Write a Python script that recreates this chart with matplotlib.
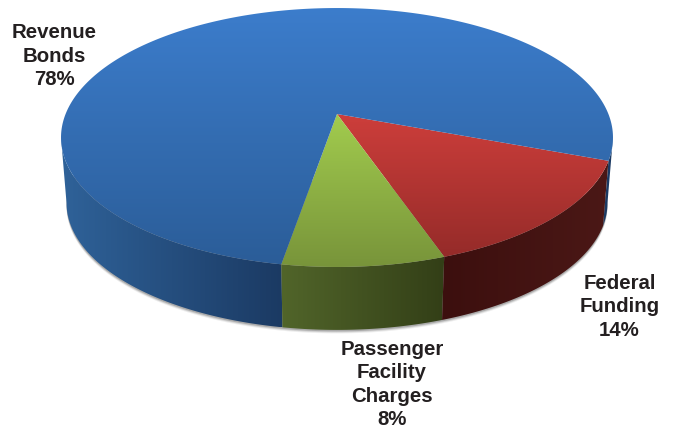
import numpy as np
import matplotlib
matplotlib.use("Agg")
import matplotlib.pyplot as plt
from matplotlib.patches import Polygon
from matplotlib.colors import LinearSegmentedColormap

plt.rcParams['font.family'] = ['Liberation Sans', 'DejaVu Sans']

# data
labels = ['Federal\nFunding', 'Passenger\nFacility\nCharges', 'Revenue\nBonds']
shares = [14, 8, 78]
label_centers = [(619.5, 307), (392, 384.5), (54.5, 56)]

# gradient colours for each slice (top from far to near, side from left to right)
top_colors = [('#cd3e3b', '#952b29'), ('#a2cc4e', '#78943a'), ('#3c7dcc', '#2b5d98')]
side_colors = [('#3c0f0e', '#4b1816'), ('#51652a', '#333f17'), ('#2f6299', '#1b3a63')]

# pie geometry, pixels
CX, CY = 337, 114
A, B, K = 271.4, 125.2, 0.1815
DEPTH = 66
SHRINK = 0.98
START = 20.5
# angle where the rim is widest, the wall stops being visible past it
EDGE = np.degrees(np.arcsin(K))


def project(t_deg, bottom=False):
    t = np.radians(t_deg)
    u, v = np.cos(t), np.sin(t)
    w = 1 - K * v
    s = SHRINK if bottom else 1.0
    y0 = CY + DEPTH if bottom else CY
    return np.column_stack([CX + s * A * u / w, y0 + s * B * v / w])


def fill_gradient(ax, pts, colors, horizontal=False):
    x0, x1 = pts[:, 0].min(), pts[:, 0].max()
    y0, y1 = pts[:, 1].min(), pts[:, 1].max()
    cmap = LinearSegmentedColormap.from_list('g', colors)
    grad = np.linspace(0, 1, 256)
    grad = grad.reshape(1, -1) if horizontal else grad.reshape(-1, 1)
    im = ax.imshow(grad, cmap=cmap, extent=(x0, x1, y1, y0), aspect='auto',
                   interpolation='bilinear', zorder=3)
    patch = Polygon(pts, closed=True, transform=ax.transData, fill=False, edgecolor='none')
    ax.add_patch(patch)
    im.set_clip_path(patch)


fig = plt.figure(figsize=(6.76, 4.29), dpi=100)
ax = fig.add_axes([0, 0, 1, 1])
ax.axis('off')

# soft shadow under the pie
lower = np.linspace(EDGE - 4, 176 + EDGE, 300)
rim = project(lower, bottom=True)
for d, a in [(3.5, 0.07), (2.5, 0.12), (1.5, 0.18)]:
    ax.add_patch(Polygon(rim + [0, d], closed=True, facecolor='black', alpha=a,
                         edgecolor='none', zorder=1))

# wedge angles from the shares
angles = START + np.cumsum([0] + shares) * 3.6
for i in [2, 1, 0]:
    # side wall: only the part facing the viewer
    if i == 2:
        near = [np.linspace(angles[2], 180 - EDGE, 200), np.linspace(360 + EDGE, angles[3], 40)]
    else:
        near = [np.linspace(angles[i], angles[i + 1], 200)]
    for tt in near:
        pts = np.vstack([project(tt), project(tt[::-1], bottom=True)])
        cols = side_colors[i]
        if i == 2 and tt[0] > 300:
            cols = (cols[1], cols[1])
        fill_gradient(ax, pts, cols, horizontal=True)

for i in range(3):
    t = np.linspace(angles[i], angles[i + 1], 400)
    pts = np.vstack([[[CX, CY]], project(t)])
    fill_gradient(ax, pts, top_colors[i])

for name, val, (x, y) in zip(labels, shares, label_centers):
    ax.text(x, y, f"{name}\n{val}%", ha='center', va='center', ma='center',
            fontsize=14.7, fontweight='bold', color='#231f20', linespacing=1.3, zorder=5)

ax.set_xlim(0, 676)
ax.set_ylim(429, 0)
fig.savefig('out.png', dpi=100, facecolor='white')
